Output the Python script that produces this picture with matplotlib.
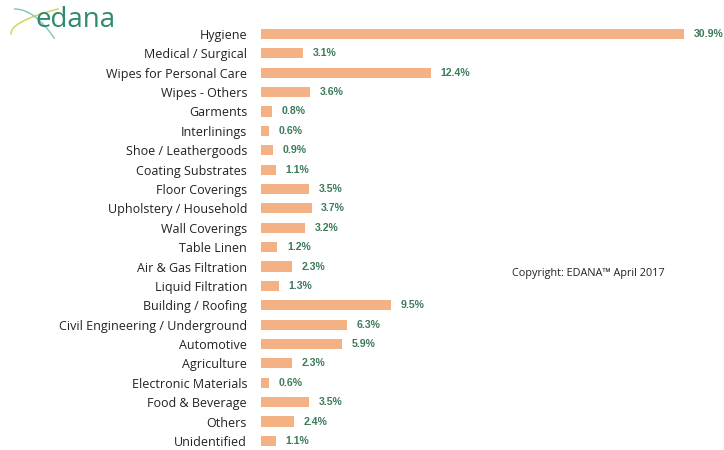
import numpy as np
import matplotlib.pyplot as plt

categories = ['Hygiene', 'Medical / Surgical', 'Wipes for Personal Care', 'Wipes - Others',
              'Garments', 'Interlinings', 'Shoe / Leathergoods', 'Coating Substrates',
              'Floor Coverings', 'Upholstery / Household', 'Wall Coverings', 'Table Linen',
              'Air & Gas Filtration', 'Liquid Filtration', 'Building / Roofing',
              'Civil Engineering / Underground', 'Automotive', 'Agriculture',
              'Electronic Materials', 'Food & Beverage', 'Others', 'Unidentified']
shares = [30.9, 3.1, 12.4, 3.6, 0.8, 0.6, 0.9, 1.1, 3.5, 3.7, 3.2, 1.2,
          2.3, 1.3, 9.5, 6.3, 5.9, 2.3, 0.6, 3.5, 2.4, 1.1]

bar_color = '#F4B183'
value_color = '#3D7A5A'
plt.rcParams['font.family'] = ['Open Sans', 'DejaVu Sans']

fig = plt.figure(figsize=(7.24, 4.5), dpi=100)
ax = fig.add_axes([0.3605, 0.0, 0.6145, 0.946])

y = np.arange(len(categories))
ax.barh(y, shares, height=0.52, color=bar_color)
for yi, v in zip(y, shares):
    ax.text(v + 0.7, yi, '%.1f%%' % v, va='center', ha='left', fontsize=7.6,
            fontweight='bold', color=value_color, family='Liberation Sans')

ax.set_yticks(y)
ax.set_yticklabels(categories, fontsize=9.0, color='#222222')
ax.tick_params(axis='y', length=0, pad=10)
ax.set_xticks([])
ax.set_xlim(0, 32.5)
ax.set_ylim(21.47, -0.5)
for s in ax.spines.values():
    s.set_visible(False)

fig.text(0.707, 0.386, 'Copyright: EDANA\u2122 April 2017', fontsize=7.8, color='#222222')

# logo
fig.text(0.049, 0.955, 'edana', fontsize=20, color='#2E8B6A', va='center', ha='left')
t = np.linspace(0, 1, 50)
fig.add_artist(plt.Line2D(0.015 + 0.065 * t, 0.925 + 0.055 * t ** 0.5, color='#D9D56A',
                          lw=1.2, transform=fig.transFigure))
fig.add_artist(plt.Line2D(0.02 + 0.055 * t, 0.98 - 0.065 * t ** 2, color='#7FC6C0',
                          lw=1.0, transform=fig.transFigure))

fig.savefig('out.png', dpi=100)
